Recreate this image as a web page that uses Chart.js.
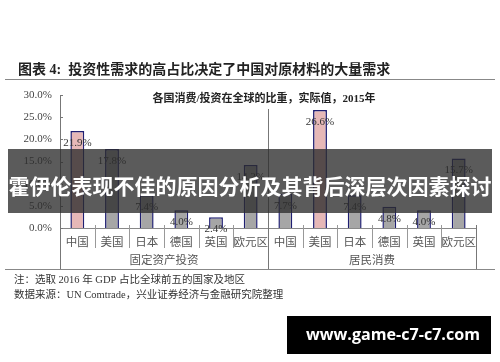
<!DOCTYPE html>
<html>
<head>
<meta charset="utf-8">
<script src="https://cdn.jsdelivr.net/npm/chart.js@4"></script>
<style>
  body { margin: 0; background: #fff; }
  #wrap { width: 500px; height: 362px; position: relative; }
</style>
</head>
<body>
<div id="wrap"><canvas id="chart" width="500" height="362"></canvas></div>
<script>
// data
const categories = ['中国', '美国', '日本', '德国', '英国', '欧元区', '中国', '美国', '日本', '德国', '英国', '欧元区'];
const groups = ['固定资产投资', '居民消费'];
const investShare = [21.9, 17.8, 7.4, 4.0, 2.4, 14.2];
const consumeShare = [7.7, 26.6, 7.4, 4.8, 4.0, 15.7];
const highlighted = [0, 7]; // bars filled pink
const yTicks = [0, 5, 10, 15, 20, 25, 30];

const serif = '"Liberation Serif", "Noto Sans CJK SC", serif';
const cjk = '"Liberation Serif", "Noto Sans CJK SC", sans-serif';

const values = investShare.concat(consumeShare);
const fills = values.map((v, i) => highlighted.includes(i) ? '#e6b8b7' : '#a6a6a6');

// extra drawing: titles, labels, separators, notes, banner
const decor = {
  id: 'decor',
  afterDatasetsDraw(chart) {
    const c = chart.ctx;
    const x = chart.scales.x, y = chart.scales.y;
    const meta = chart.getDatasetMeta(0);
    c.save();

    // value labels just under the bar tops
    c.font = '11px ' + serif;
    c.fillStyle = '#333';
    c.textAlign = 'center';
    c.textBaseline = 'middle';
    meta.data.forEach((bar, i) => {
      c.fillText(values[i].toFixed(1) + '%', bar.x, bar.y + 12);
    });

    // small ticks on y axis (inside)
    c.strokeStyle = '#777';
    c.lineWidth = 1;
    yTicks.forEach(t => {
      const py = Math.round(y.getPixelForValue(t)) + 0.5;
      c.beginPath(); c.moveTo(x.left, py); c.lineTo(x.left + 3, py); c.stroke();
    });

    // category separators and group separators
    const step = x.getPixelForValue(1) - x.getPixelForValue(0);
    for (let i = 0; i <= categories.length; i++) {
      const px = Math.round(x.getPixelForValue(i) - step / 2) + 0.5;
      const isGroup = (i % 6 === 0);
      c.strokeStyle = isGroup ? '#777' : '#999';
      c.beginPath();
      if (i === 6) c.moveTo(px, 109);
      else c.moveTo(px, y.bottom - 3);
      c.lineTo(px, isGroup ? 270 : 248);
      c.stroke();
    }

    // group labels
    c.font = '11.5px ' + cjk;
    c.fillStyle = '#555';
    groups.forEach((g, k) => {
      const a = x.getPixelForValue(k * 6) - step / 2;
      const b = x.getPixelForValue(k * 6 + 5) + step / 2;
      c.fillText(g, (a + b) / 2, 261);
    });

    // rule under the chart
    c.strokeStyle = '#888';
    c.beginPath(); c.moveTo(5, 269.5); c.lineTo(495, 269.5); c.stroke();

    // page title and rule
    c.textAlign = 'left';
    c.fillStyle = '#222';
    c.font = 'bold 14px ' + cjk;
    c.fillText('图表 4:  投资性需求的高占比决定了中国对原材料的大量需求', 18, 70);
    c.strokeStyle = '#888';
    c.beginPath(); c.moveTo(5, 79.5); c.lineTo(495, 79.5); c.stroke();

    // inner chart title
    c.textAlign = 'center';
    c.font = 'bold 11px ' + cjk;
    c.fillStyle = '#222';
    c.fillText('各国消费/投资在全球的比重，实际值，2015年', 264, 99);

    // notes
    c.textAlign = 'left';
    c.font = '10.5px ' + cjk;
    c.fillStyle = '#333';
    c.fillText('注：选取 2016 年 GDP 占比全球前五的国家及地区', 14, 280);
    c.fillText('数据来源：UN Comtrade，兴业证券经济与金融研究院整理', 14, 295);

    // overlay banner
    c.fillStyle = 'rgba(45,45,45,0.78)';
    c.fillRect(8, 149, 484, 64);
    c.fillStyle = '#fff';
    c.textAlign = 'center';
    c.font = 'bold 21px "Noto Sans CJK SC", sans-serif';
    c.fillText('霍伊伦表现不佳的原因分析及其背后深层次因素探讨', 250, 186);

    // watermark box
    c.fillStyle = '#000';
    c.fillRect(287, 316, 204, 38);
    c.fillStyle = '#fff';
    const wm = 'www.game-c7-c7.com';
    c.font = 'bold 20px "Open Sans", "Noto Sans", sans-serif';
    const size = 20 * 174 / c.measureText(wm).width;
    c.font = 'bold ' + size.toFixed(1) + 'px "Open Sans", "Noto Sans", sans-serif';
    c.fillText(wm, 393, 335);

    c.restore();
  }
};

const ctx = document.getElementById('chart').getContext('2d');

new Chart(ctx, {
  type: 'bar',
  data: {
    labels: categories,
    datasets: [{
      data: values,
      backgroundColor: fills,
      borderColor: '#1f1f72',
      borderWidth: 1.5,
      borderSkipped: 'bottom',
      barPercentage: 0.4,
      categoryPercentage: 1
    }]
  },
  options: {
    responsive: false,
    animation: false,
    layout: { padding: { top: 95, left: 0, right: 24, bottom: 92 } },
    plugins: { legend: { display: false }, tooltip: { enabled: false }, title: { display: false } },
    scales: {
      x: {
        grid: { display: false },
        border: { display: true, color: '#888' },
        ticks: { font: { size: 11.5, family: cjk }, color: '#555', padding: 0, maxRotation: 0, autoSkip: false },
        afterFit(scale) { scale.height = 42; }
      },
      y: {
        min: 0,
        max: 30,
        grid: { display: false },
        border: { display: true, color: '#777' },
        ticks: {
          stepSize: 5,
          padding: 0,
          color: '#444',
          font: { size: 11, family: serif },
          callback: v => v.toFixed(1) + '%'
        },
        afterFit(scale) { scale.width = 60; }
      }
    }
  },
  plugins: [decor]
});
</script>
</body>
</html>
